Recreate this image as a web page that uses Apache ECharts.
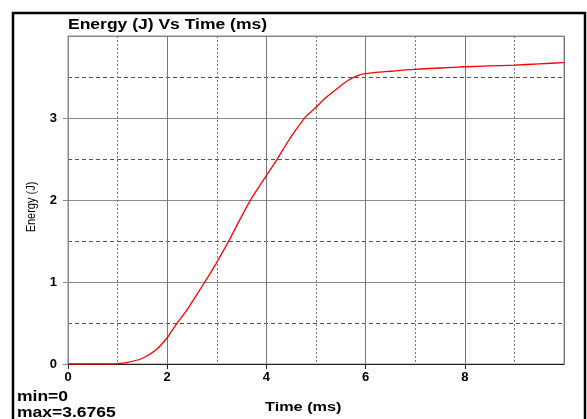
<!DOCTYPE html>
<html>
<head>
<meta charset="utf-8">
<script src="https://cdn.jsdelivr.net/npm/echarts@6/dist/echarts.min.js"></script>
<style>html,body{margin:0;padding:0;background:#fff}#c{width:587px;height:419px}</style>
</head>
<body>
<div id="c"></div>
<script>
const titleText = 'Energy (J) Vs Time (ms)';
const xName = 'Time (ms)';
const yName = 'Energy (J)';
const statMin = 'min=0';
const statMax = 'max=3.6765';
const timeMs = [0, 0.5, 0.9, 1.0, 1.2, 1.5, 1.77, 2.0, 2.2, 2.4, 2.6, 2.8, 3.0, 3.25, 3.5, 3.7, 4.0, 4.2, 4.4, 4.6, 4.8, 5.0, 5.2, 5.45, 5.65, 5.85, 6.0, 6.25, 6.5, 6.9, 7.5, 8.0, 8.5, 9.0, 9.5, 10.0];
const energyJ = [0, 0, 0, 0.005, 0.02, 0.07, 0.17, 0.32, 0.50, 0.66, 0.85, 1.04, 1.24, 1.51, 1.80, 2.02, 2.30, 2.48, 2.68, 2.86, 3.02, 3.13, 3.25, 3.37, 3.46, 3.52, 3.54, 3.56, 3.57, 3.59, 3.61, 3.625, 3.635, 3.645, 3.66, 3.6765];

const chart = echarts.init(document.getElementById('c'), null, {renderer: 'canvas'});
const font = 'Arial, "Liberation Sans", sans-serif';
chart.setOption({
  animation: false,
  backgroundColor: '#fff',
  grid: {left: 68, right: 23, top: 36, bottom: 55, show: true, borderColor: '#888', borderWidth: 1, backgroundColor: 'transparent'},
  xAxis: {
    type: 'value', min: 0, max: 10, interval: 2,
    axisLine: {show: true, lineStyle: {color: '#222', width: 1}},
    axisTick: {show: true, length: 5, lineStyle: {color: '#222'}},
    axisLabel: {color: '#000', fontWeight: 'bold', fontSize: 13, fontFamily: font, margin: 7, showMaxLabel: false},
    splitLine: {show: true, lineStyle: {color: '#777', width: 1}},
    minorTick: {show: false, splitNumber: 2},
    minorSplitLine: {show: true, lineStyle: {color: '#777', type: [2, 2], width: 1}}
  },
  yAxis: {
    type: 'value', min: 0, max: 4, interval: 1,
    axisLine: {show: true, lineStyle: {color: '#888', width: 1}},
    axisTick: {show: true, length: 5, lineStyle: {color: '#888'}},
    axisLabel: {color: '#000', fontWeight: 'bold', fontSize: 13, fontFamily: font, margin: 11, showMaxLabel: false},
    splitLine: {show: true, lineStyle: {color: '#888', width: 1}},
    minorTick: {show: false, splitNumber: 2},
    minorSplitLine: {show: true, lineStyle: {color: '#555', type: [4, 3], width: 1}}
  },
  series: [{
    type: 'line',
    data: timeMs.map((t, i) => [t, energyJ[i]]),
    showSymbol: false,
    smooth: 0.2,
    lineStyle: {color: '#ff0000', width: 1.3},
    z: 5
  }],
  graphic: [
    {type: 'rect', shape: {x: 13, y: 13, width: 572, height: 430}, style: {fill: 'none', stroke: '#000', lineWidth: 2.5}, silent: true},
    {type: 'text', x: 68, y: 25, scaleX: 1.25, style: {text: titleText, font: 'bold 14px ' + font, fill: '#000', textAlign: 'left', textVerticalAlign: 'middle'}},
    {type: 'text', x: 265, y: 407, scaleX: 1.25, style: {text: xName, font: 'bold 13px ' + font, fill: '#000', textAlign: 'left', textVerticalAlign: 'middle'}},
    {type: 'text', x: 31, y: 207, rotation: Math.PI / 2, scaleY: 1.2, style: {text: yName, font: '11px ' + font, fill: '#000', textAlign: 'center', textVerticalAlign: 'middle'}},
    {type: 'text', x: 17, y: 397, scaleX: 1.25, style: {text: statMin, font: 'bold 14px ' + font, fill: '#000', textAlign: 'left', textVerticalAlign: 'middle'}},
    {type: 'text', x: 17, y: 413, scaleX: 1.25, style: {text: statMax, font: 'bold 14px ' + font, fill: '#000', textAlign: 'left', textVerticalAlign: 'middle'}}
  ]
});
</script>
</body>
</html>
